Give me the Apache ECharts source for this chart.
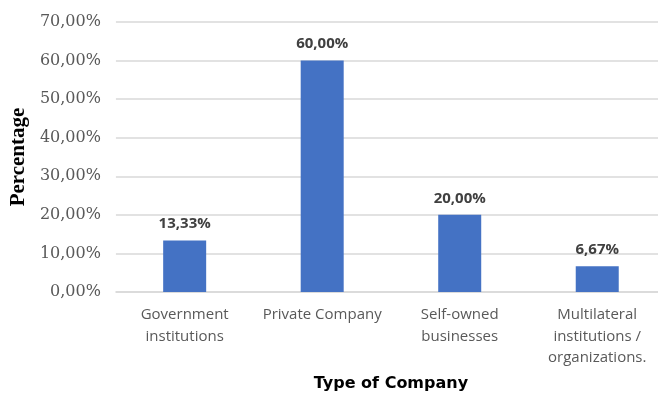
<!DOCTYPE html>
<html>
<head>
<meta charset="utf-8">
<script src="https://cdn.jsdelivr.net/npm/echarts@6/dist/echarts.min.js"></script>
<style>
  html, body { margin: 0; padding: 0; background: #fff; overflow: hidden; }
  /* canvas is a little wider than the window so the plot can run past the right edge */
  #chart { width: 680px; height: 397px; }
</style>
</head>
<body>
<div id="chart"></div>
<script>
// Share of respondents by type of company (percent)
const categories = [
  'Government\ninstitutions',
  'Private Company',
  'Self-owned\nbusinesses',
  'Multilateral\ninstitutions /\norganizations.'
];
const shares = [13.33, 60.00, 20.00, 6.67];

const fmtPct = v => v.toFixed(2).replace('.', ',') + '%';

const chart = echarts.init(document.getElementById('chart'));
chart.setOption({
  animation: false,
  grid: { left: 114, top: 22, width: 552, height: 270, containLabel: false },
  xAxis: {
    type: 'category',
    data: categories,
    axisLine: { show: true, lineStyle: { color: '#d9d9d9', width: 1.5 } },
    axisTick: { show: false },
    axisLabel: {
      interval: 0,
      margin: 12,
      color: '#595959',
      fontFamily: 'Open Sans',
      fontSize: 15,
      lineHeight: 21.5
    },
    name: 'Type of Company',
    nameLocation: 'middle',
    nameGap: 84,
    nameTextStyle: {
      color: '#000',
      fontFamily: 'DejaVu Sans',
      fontWeight: 'bold',
      fontSize: 16
    }
  },
  yAxis: {
    type: 'value',
    min: 0,
    max: 70,
    interval: 10,
    axisLine: { show: false },
    axisTick: { show: false },
    splitLine: { lineStyle: { color: '#d9d9d9', width: 1.5 } },
    axisLabel: {
      margin: 15,
      color: '#595959',
      fontFamily: 'DejaVu Serif',
      fontSize: 16,
      formatter: v => fmtPct(v)
    },
    name: 'Percentage',
    nameLocation: 'middle',
    nameGap: 79,
    nameRotate: 90,
    nameTextStyle: {
      color: '#000',
      fontFamily: 'Liberation Serif',
      fontWeight: 'bold',
      fontSize: 21
    }
  },
  series: [{
    type: 'bar',
    data: shares,
    barWidth: 43,
    itemStyle: { color: '#4472C4' },
    label: {
      show: true,
      position: 'top',
      distance: 9,
      color: '#404040',
      fontFamily: 'Open Sans',
      fontWeight: 'bold',
      fontSize: 15,
      formatter: p => fmtPct(p.value)
    }
  }]
});
</script>
</body>
</html>
